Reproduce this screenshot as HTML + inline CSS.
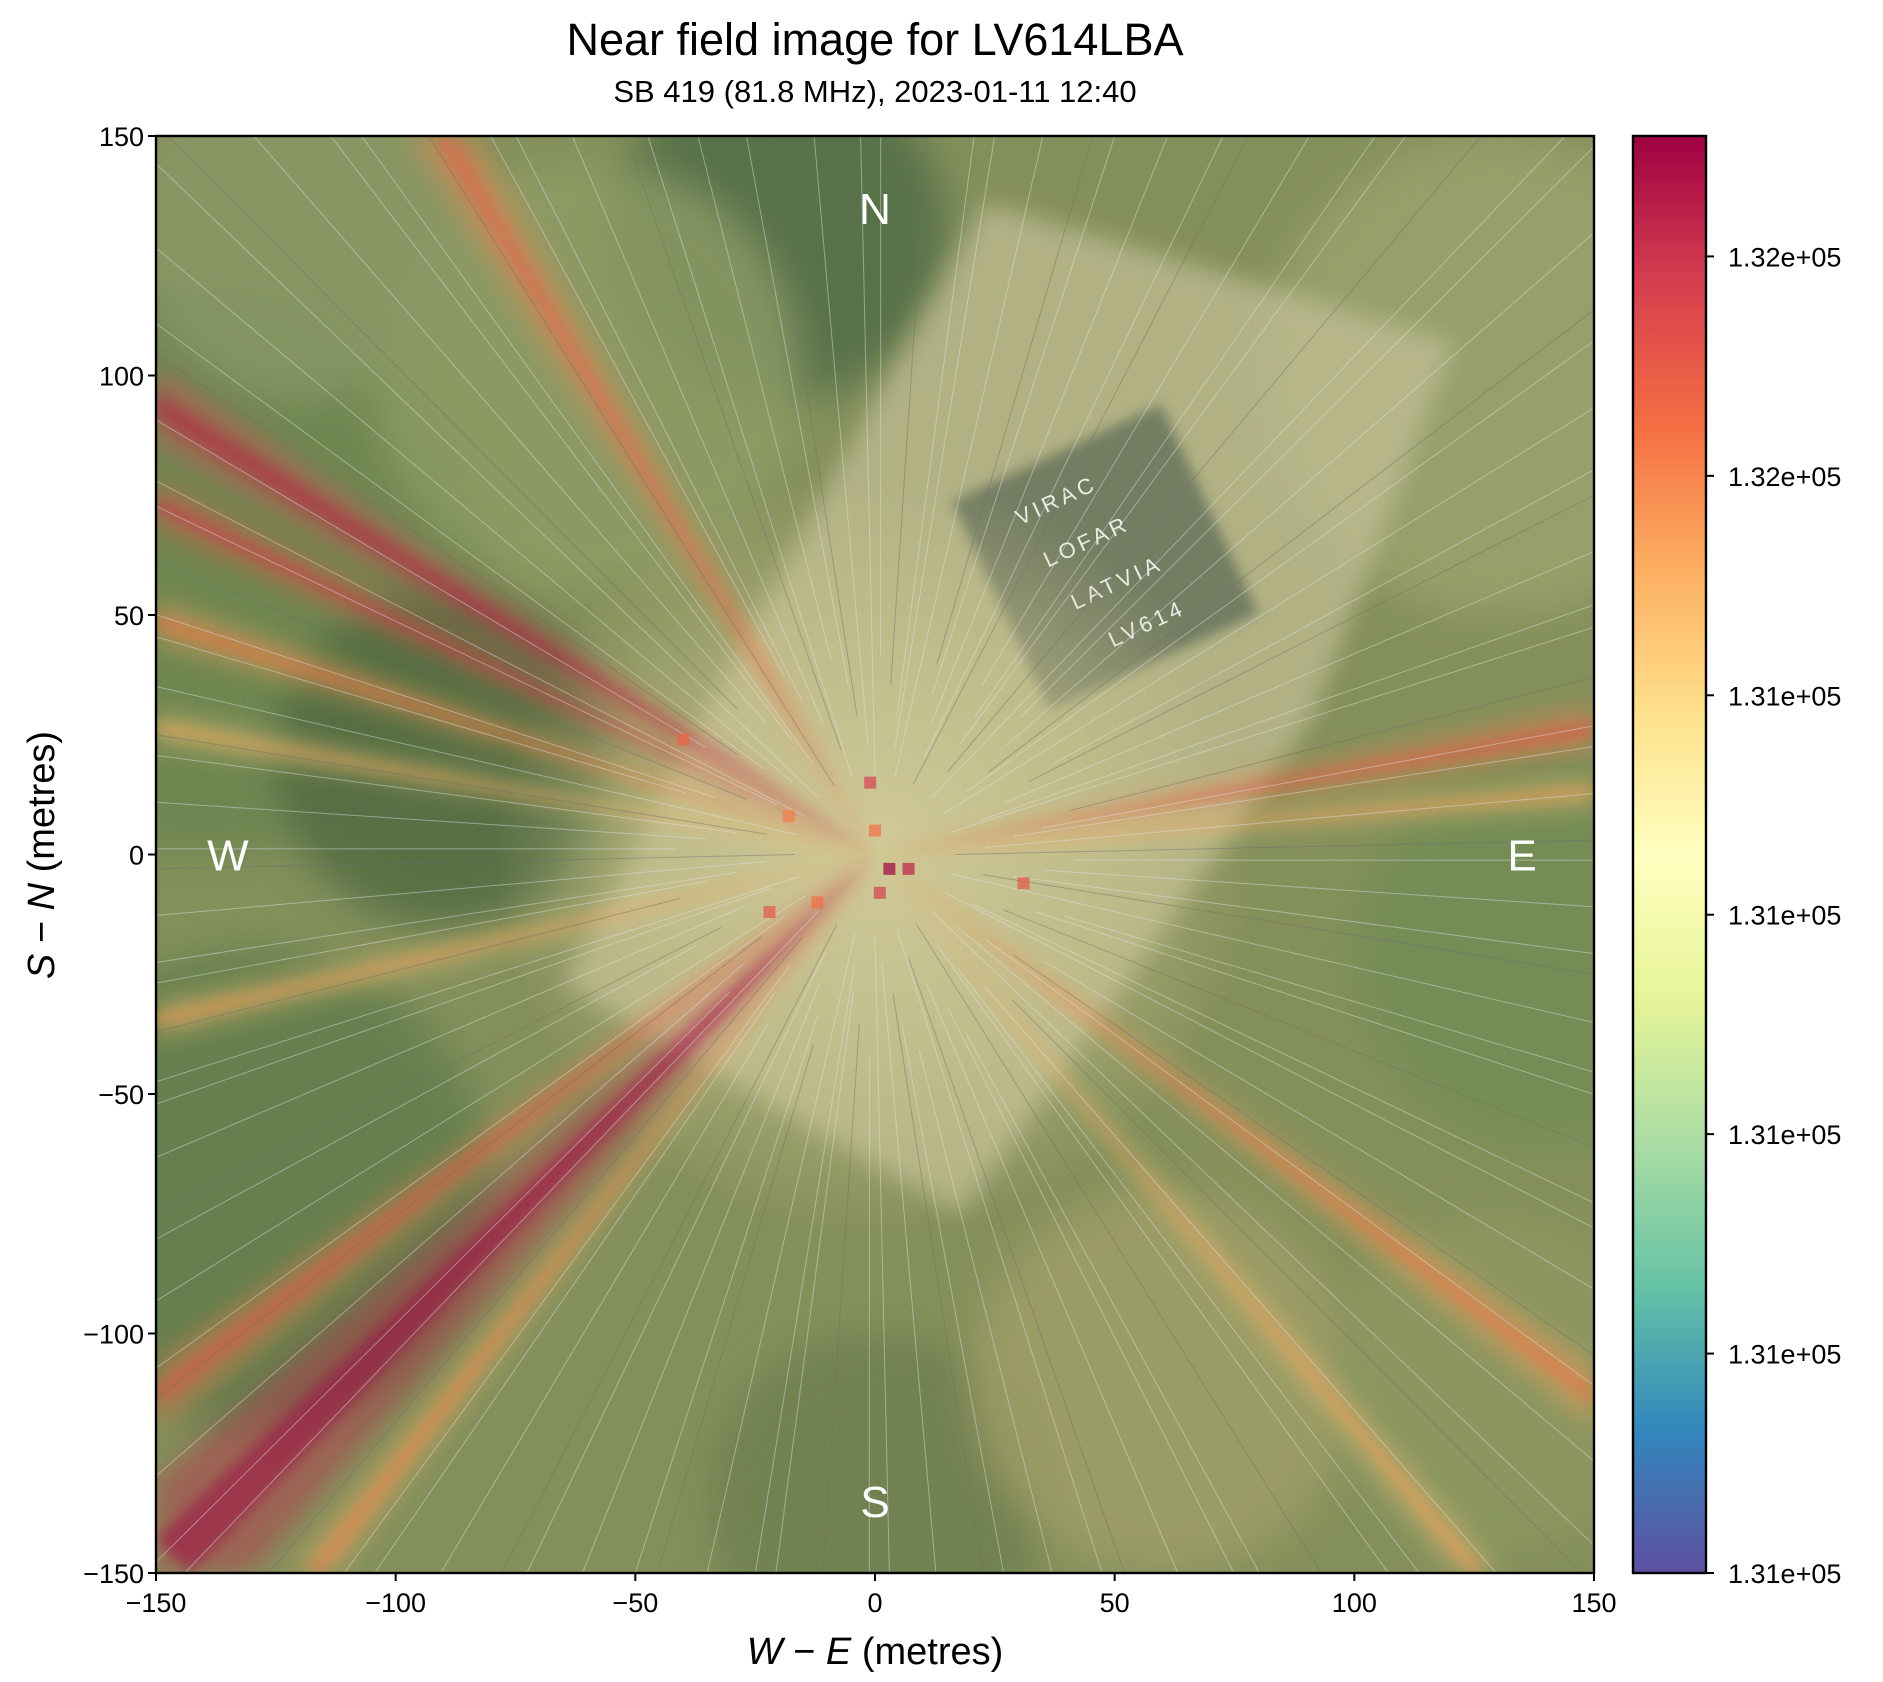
<!DOCTYPE html>
<html><head><meta charset="utf-8"><title>Near field image for LV614LBA</title>
<style>html,body{margin:0;padding:0;background:#fff;width:1883px;height:1682px;overflow:hidden}svg{display:block;font-family:"Liberation Sans","DejaVu Sans",sans-serif}</style>
</head><body>
<svg id="fig" width="1883" height="1682" viewBox="0 0 1883 1682" xmlns="http://www.w3.org/2000/svg">
<defs>
<linearGradient id="cbar" x1="0" y1="1" x2="0" y2="0">
<stop offset="0" stop-color="#5e4fa2"/><stop offset="0.1" stop-color="#3288bd"/><stop offset="0.2" stop-color="#66c2a5"/><stop offset="0.3" stop-color="#abdda4"/><stop offset="0.4" stop-color="#e6f598"/><stop offset="0.5" stop-color="#ffffbf"/><stop offset="0.6" stop-color="#fee08b"/><stop offset="0.7" stop-color="#fdae61"/><stop offset="0.8" stop-color="#f46d43"/><stop offset="0.9" stop-color="#d53e4f"/><stop offset="1" stop-color="#9e0142"/>
</linearGradient>
<radialGradient id="centerGlow" cx="0.5" cy="0.5" r="0.5">
<stop offset="0" stop-color="#d6cf9c" stop-opacity="0.85"/><stop offset="0.6" stop-color="#cfc894" stop-opacity="0.45"/><stop offset="1" stop-color="#cfc894" stop-opacity="0"/>
</radialGradient>
<clipPath id="plotclip"><rect x="156" y="136" width="1438" height="1437"/></clipPath>
<filter id="blur6"><feGaussianBlur stdDeviation="6"/></filter>
<filter id="blur12"><feGaussianBlur stdDeviation="12"/></filter>
<filter id="blur20"><feGaussianBlur stdDeviation="20"/></filter>
</defs>
<text x="875" y="55" text-anchor="middle" font-size="45" fill="#000">Near field image for LV614LBA</text>
<text x="875" y="102" text-anchor="middle" font-size="31" fill="#000">SB 419 (81.8 MHz), 2023-01-11 12:40</text>
<g id="plot" clip-path="url(#plotclip)"></g>
<rect x="156" y="136" width="1438" height="1437" fill="none" stroke="#000" stroke-width="2.4"/>
<g id="axes"></g>
<rect x="1633" y="136" width="73" height="1437" fill="url(#cbar)" stroke="#000" stroke-width="2.4"/>
<text x="875" y="1664" text-anchor="middle" font-size="38" fill="#000"><tspan font-style="italic">W</tspan> − <tspan font-style="italic">E</tspan> (metres)</text>
<text transform="translate(54,855) rotate(-90)" text-anchor="middle" font-size="38" fill="#000"><tspan font-style="italic">S</tspan> − <tspan font-style="italic">N</tspan> (metres)</text>
</svg>
<script>
const xTicks = [-150, -100, -50, 0, 50, 100, 150];
const yTicks = [-150, -100, -50, 0, 50, 100, 150];
const cbarTickLabels = ["1.31e+05","1.31e+05","1.31e+05","1.31e+05","1.31e+05","1.32e+05","1.32e+05"];
const cbarTickFrac = [0, 0.1527, 0.3054, 0.4581, 0.6108, 0.7635, 0.9162];
// beams: direction (deg, from east CCW), half-width (deg), colour level (0..1 of colormap)
const beamAngles = [148, 154, 162, 121, 225, 217, 232, 10, 5, -37, -50, 193, 170];
const beamWidths = [2.2, 1.6, 1.6, 2.0, 4.0, 1.8, 1.2, 1.8, 1.2, 1.6, 1.0, 1.4, 1.2];
const beamLevels = [0.88, 0.84, 0.72, 0.76, 0.94, 0.78, 0.7, 0.78, 0.66, 0.72, 0.66, 0.66, 0.64];
// field (light area) outline, data coords
const fieldX = [23, 121, 91, 18, -65, -9.5];
const fieldY = [136, 107, 28, -75, -27, 78];
// compass labels
const compassText = ["N","S","W","E"];
const compassX = [0, 0, -135, 135];
const compassY = [135, -135, 0, 0];
// hot spots near centre
const spotX = [3, 7, -1, 1, -22, -12, 31, 0, -40, -18];
const spotY = [-3, -3, 15, -8, -12, -10, -6, 5, 24, 8];
const spotLevel = [1, 0.95, 0.9, 0.9, 0.85, 0.8, 0.85, 0.8, 0.82, 0.78];

const NS = "http://www.w3.org/2000/svg";
const L = 156, T = 136, W = 1438, H = 1437;
function sx(v){ return L + (v + 150) / 300 * W; }
function sy(v){ return T + (150 - v) / 300 * H; }
const cmap = ["#5e4fa2","#3288bd","#66c2a5","#abdda4","#e6f598","#ffffbf","#fee08b","#fdae61","#f46d43","#d53e4f","#9e0142"];
function col(t){ t = Math.max(0, Math.min(1, t)); const i = Math.min(9, Math.floor(t * 10)); const f = t * 10 - i;
  const a = cmap[i], b = cmap[i + 1]; const p = k => parseInt(a.substr(k, 2), 16) * (1 - f) + parseInt(b.substr(k, 2), 16) * f;
  return "rgb(" + [1, 3, 5].map(k => Math.round(p(k))).join(",") + ")"; }
function mk(tag, attrs, parent){ const e = document.createElementNS(NS, tag); for (const k in attrs) e.setAttribute(k, attrs[k]); parent.appendChild(e); return e; }
const cx0 = sx(0), cy0 = sy(0);
// point where ray from centre at angle (rad) meets plot boundary
function rayEnd(r){
  const dx = Math.cos(r), dy = -Math.sin(r);
  let t = 1e9;
  if (dx > 1e-9) t = Math.min(t, (L + W - cx0) / dx);
  if (dx < -1e-9) t = Math.min(t, (L - cx0) / dx);
  if (dy > 1e-9) t = Math.min(t, (T + H - cy0) / dy);
  if (dy < -1e-9) t = Math.min(t, (T - cy0) / dy);
  return [cx0 + t * dx, cy0 + t * dy];
}

const plot = document.getElementById("plot");
mk("rect", {x: L, y: T, width: W, height: H, fill: "#84905c"}, plot);
const patches = [[-140,60,"#6a8450",60],[-90,20,"#50693f",35],[-20,130,"#4d6a45",35],[-130,-70,"#5f7c4c",50],[0,-135,"#6e7e50",35],[140,-20,"#728c55",40],[130,100,"#9aa470",50],[60,-110,"#a09f68",40],[-60,100,"#8f9c66",45],[130,-110,"#8d9862",35],[-120,130,"#8a9866",35]];
patches.forEach(p => {
  const c = mk("circle", {cx: sx(p[0]), cy: sy(p[1]), r: p[3] / 300 * W, fill: p[2], opacity: 0.8, filter: "url(#blur20)"}, plot);
  
  
});
const fpts = fieldX.map((x, i) => sx(x) + "," + sy(fieldY[i])).join(" ");
const field = mk("polygon", {points: fpts, fill: "#c4c096", opacity: 0.7, filter: "url(#blur12)"}, plot);


const blk = mk("g", {transform: "translate(" + sx(48) + "," + sy(62) + ") rotate(-25)"}, plot);


mk("rect", {x: -115, y: -115, width: 230, height: 230, fill: "#5e6c57", opacity: 0.75, filter: "url(#blur6)"}, blk);
["VIRAC", "LOFAR", "LATVIA", "LV614"].forEach((t, i) => {
  const tx = mk("text", {x: -20 + i * 10, y: -65 + i * 50, "text-anchor": "middle", "font-size": 22, fill: "#e8eee8", "letter-spacing": 4}, blk);
  tx.textContent = t;
  
  
});
mk("circle", {cx: cx0, cy: cy0, r: 380, fill: "url(#centerGlow)"}, plot);
beamAngles.forEach((a, i) => {
  const w = beamWidths[i];
  const pt = ang => rayEnd(ang * Math.PI / 180).join(",");
  const g = mk("polygon", {points: cx0 + "," + cy0 + " " + pt(a - w) + " " + pt(a) + " " + pt(a + w), fill: col(beamLevels[i]), opacity: 0.42, filter: "url(#blur12)"}, plot);
  
  
  const core = mk("polygon", {points: cx0 + "," + cy0 + " " + pt(a - w * 0.35) + " " + pt(a + w * 0.35), fill: col(Math.min(1, beamLevels[i] + 0.08)), opacity: 0.45, filter: "url(#blur6)"}, plot);
  
  
});
for (let k = 0; k < 120; k++) {
  const a = k * 3 + (k % 3) * 0.7;
  const r = a * Math.PI / 180, r0 = 80 + (k % 5) * 30;
  const e = rayEnd(r + 0.02);
  const ln = mk("line", {x1: cx0 + r0 * Math.cos(r), y1: cy0 - r0 * Math.sin(r), x2: e[0], y2: e[1], stroke: (k % 4 === 0) ? "#6e6e70" : "#dfe4ea", "stroke-width": 1, opacity: 0.45}, plot);
  
  
}
spotX.forEach((x, i) => {
  const s = mk("rect", {x: sx(x) - 6, y: sy(spotY[i]) - 6, width: 12, height: 12, fill: col(spotLevel[i]), opacity: 0.7}, plot);
  
  
});
compassText.forEach((t, i) => {
  const c = mk("text", {x: sx(compassX[i]), y: sy(compassY[i]) + 16, "text-anchor": "middle", "font-size": 44, fill: "#ffffff"}, plot);
  c.textContent = t;
  
  
});

const axes = document.getElementById("axes");
xTicks.forEach(v => {
  const tk = mk("line", {x1: sx(v), y1: T + H, x2: sx(v), y2: T + H + 8, stroke: "#000", "stroke-width": 2}, axes);
  
  
  const t = mk("text", {x: sx(v), y: 1612, "text-anchor": "middle", "font-size": 27, fill: "#000"}, axes);
  t.textContent = (v < 0 ? "−" : "") + Math.abs(v);
  
  
});
yTicks.forEach(v => {
  const tk = mk("line", {x1: L - 8, y1: sy(v), x2: L, y2: sy(v), stroke: "#000", "stroke-width": 2}, axes);
  
  
  const t = mk("text", {x: L - 12, y: sy(v) + 10, "text-anchor": "end", "font-size": 27, fill: "#000"}, axes);
  t.textContent = (v < 0 ? "−" : "") + Math.abs(v);
  
  
});
cbarTickLabels.forEach((lab, i) => {
  const y = T + H - cbarTickFrac[i] * H;
  const tk = mk("line", {x1: 1706, y1: y, x2: 1714, y2: y, stroke: "#000", "stroke-width": 2}, axes);
  
  
  const t = mk("text", {x: 1728, y: y + 10, "font-size": 27, fill: "#000"}, axes);
  t.textContent = lab;
  
  
});
</script>
</body></html>
